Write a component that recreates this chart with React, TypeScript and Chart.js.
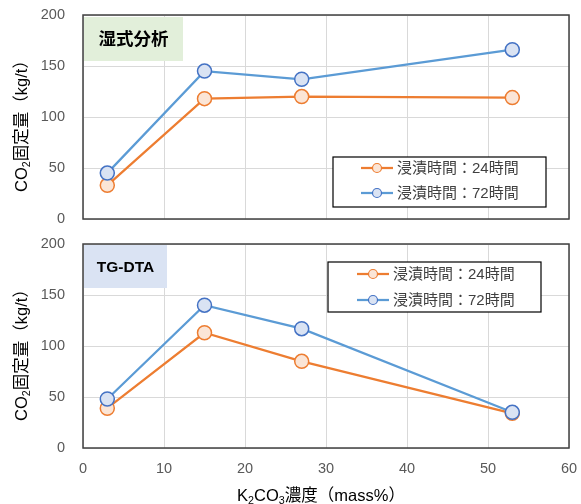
import React, { useEffect, useRef } from "react";
import { Chart, registerables } from "chart.js";

Chart.register(...registerables);

// ---- data ----
const concentrations = [3, 15, 27, 53];
const wet24 = [33, 118, 120, 119];
const wet72 = [45, 145, 137, 166];
const tg24 = [39, 113, 85, 34];
const tg72 = [48, 140, 117, 35];
const seriesLabels = ["浸漬時間：24時間", "浸漬時間：72時間"];
const panelTitles = ["湿式分析", "TG-DTA"];

const LATIN = '"Liberation Sans", "Noto Sans CJK JP", sans-serif';
const ORANGE = "#ED7D31";
const ORANGE_FILL = "#FBE5D6";
const BLUE = "#5B9BD5";
const BLUE_BORDER = "#4472C4";
const BLUE_FILL = "#DAE3F3";

type Part = { t: string; sub?: boolean };

function drawRich(ctx: CanvasRenderingContext2D, parts: Part[], size: number, cx: number, cy: number, rot: number, color: string) {
  ctx.save();
  ctx.translate(cx, cy);
  ctx.rotate(rot);
  const subSize = size * 0.65;
  let total = 0;
  const widths = parts.map((p) => {
    ctx.font = `${p.sub ? subSize : size}px ${LATIN}`;
    const w = ctx.measureText(p.t).width;
    total += w;
    return w;
  });
  let x = -total / 2;
  ctx.fillStyle = color;
  ctx.textBaseline = "middle";
  ctx.textAlign = "left";
  parts.forEach((p, i) => {
    ctx.font = `${p.sub ? subSize : size}px ${LATIN}`;
    ctx.fillText(p.t, x, p.sub ? size * 0.3 : 0);
    x += widths[i];
  });
  ctx.restore();
}

const yTitle: Part[] = [{ t: "CO" }, { t: "2", sub: true }, { t: "固定量（kg/t）" }];
const xTitle: Part[] = [{ t: "K" }, { t: "2", sub: true }, { t: "CO" }, { t: "3", sub: true }, { t: "濃度（mass%）" }];

type Panel = {
  height: number;
  top: number;
  d24: number[];
  d72: number[];
  title: string;
  titleBox: { x: number; y: number; w: number; h: number; fill: string; size: number };
  legend: { x: number; y: number; w: number; h: number; lineX: number; rows: number[] };
  showX: boolean;
  padTop: number;
  padBottom: number;
  xHeight: number;
};

const panels: Panel[] = [
  {
    height: 230,
    top: 0,
    d24: wet24,
    d72: wet72,
    title: panelTitles[0],
    titleBox: { x: 84, y: 17, w: 99, h: 44, fill: "#E2EFDA", size: 17.5 },
    legend: { x: 333, y: 157, w: 213, h: 50, lineX: 361, rows: [168, 193] },
    showX: false,
    padTop: 15,
    padBottom: 11,
    xHeight: 0,
  },
  {
    height: 274,
    top: 230,
    d24: tg24,
    d72: tg72,
    title: panelTitles[1],
    titleBox: { x: 84, y: 15, w: 83, h: 43, fill: "#DAE3F3", size: 15.5 },
    legend: { x: 328, y: 32, w: 213, h: 50, lineX: 357, rows: [44, 70] },
    showX: true,
    padTop: 14,
    padBottom: 0,
    xHeight: 56,
  },
];

function zeroPad(s: any) {
  s.paddingTop = 0;
  s.paddingBottom = 0;
  s.paddingLeft = 0;
  s.paddingRight = 0;
}

function PanelChart({ p }: { p: Panel }) {
  const ref = useRef<HTMLCanvasElement>(null);
  useEffect(() => {
    if (!ref.current) return;
    const decor = {
      id: "decor",
      beforeDatasetsDraw(chart: any) {
        const ctx = chart.ctx as CanvasRenderingContext2D;
        const a = chart.chartArea;
        const b = p.titleBox;
        ctx.save();
        ctx.fillStyle = b.fill;
        ctx.fillRect(b.x, b.y, b.w, b.h);
        ctx.fillStyle = "#000";
        ctx.font = `bold ${b.size}px ${LATIN}`;
        ctx.textBaseline = "middle";
        ctx.textAlign = "center";
        ctx.fillText(p.title, b.x + b.w / 2, b.y + b.h / 2 + 1);
        ctx.strokeStyle = "#404040";
        ctx.lineWidth = 1.5;
        ctx.strokeRect(a.left, a.top, a.right - a.left, a.bottom - a.top);
        ctx.restore();
      },
      afterDraw(chart: any) {
        const ctx = chart.ctx as CanvasRenderingContext2D;
        const a = chart.chartArea;
        drawRich(ctx, yTitle, 16.5, 22, (a.top + a.bottom) / 2 + 5, -Math.PI / 2, "#000");
        if (p.showX) drawRich(ctx, xTitle, 16.5, 321, 266, 0, "#000");
        const L = p.legend;
        ctx.save();
        ctx.fillStyle = "#fff";
        ctx.fillRect(L.x, L.y, L.w, L.h);
        ctx.strokeStyle = "#000";
        ctx.lineWidth = 1.2;
        ctx.strokeRect(L.x, L.y, L.w, L.h);
        chart.data.datasets.forEach((ds: any, i: number) => {
          const y = L.rows[i];
          ctx.strokeStyle = ds.borderColor;
          ctx.lineWidth = 2.25;
          ctx.beginPath();
          ctx.moveTo(L.lineX, y);
          ctx.lineTo(L.lineX + 32, y);
          ctx.stroke();
          ctx.beginPath();
          ctx.arc(L.lineX + 16, y, 4.5, 0, Math.PI * 2);
          ctx.fillStyle = ds.pointBackgroundColor;
          ctx.fill();
          ctx.lineWidth = 1.2;
          ctx.strokeStyle = ds.pointBorderColor;
          ctx.stroke();
          ctx.fillStyle = "#404040";
          ctx.font = `15px ${LATIN}`;
          ctx.textAlign = "left";
          ctx.textBaseline = "middle";
          ctx.fillText(ds.label, L.lineX + 36, y + 1);
        });
        ctx.restore();
      },
    };
    const chart = new Chart(ref.current, {
      type: "line",
      data: {
        datasets: [
          {
            label: seriesLabels[0],
            data: concentrations.map((x, i) => ({ x, y: p.d24[i] })),
            borderColor: ORANGE,
            backgroundColor: ORANGE,
            pointBackgroundColor: ORANGE_FILL,
            pointBorderColor: ORANGE,
            borderWidth: 2.25,
            pointRadius: 7,
            pointBorderWidth: 1.5,
            order: 1,
          },
          {
            label: seriesLabels[1],
            data: concentrations.map((x, i) => ({ x, y: p.d72[i] })),
            borderColor: BLUE,
            backgroundColor: BLUE,
            pointBackgroundColor: BLUE_FILL,
            pointBorderColor: BLUE_BORDER,
            borderWidth: 2.25,
            pointRadius: 7,
            pointBorderWidth: 1.5,
            order: 0,
          },
        ],
      },
      options: {
        responsive: false,
        animation: false,
        layout: { padding: { left: 0, right: 12, top: p.padTop, bottom: p.padBottom } },
        plugins: { legend: { display: false }, tooltip: { enabled: false } },
        scales: {
          x: {
            type: "linear",
            min: 0,
            max: 60,
            ticks: { stepSize: 10, display: p.showX, padding: 12, color: "#595959", font: { size: 14.5, family: LATIN } },
            grid: { color: "#D9D9D9", lineWidth: 1, drawTicks: false },
            border: { display: false },
            afterFit: (s: any) => {
              s.height = p.xHeight;
              zeroPad(s);
            },
          },
          y: {
            min: 0,
            max: 200,
            ticks: { stepSize: 50, padding: 18, color: "#595959", font: { size: 14.5, family: LATIN } },
            grid: { color: "#D9D9D9", lineWidth: 1, drawTicks: false },
            border: { display: false },
            afterFit: (s: any) => {
              s.width = 83;
              zeroPad(s);
            },
          },
        },
      },
      plugins: [decor],
    } as any);
    return () => chart.destroy();
  }, [p]);
  return (
    <canvas
      ref={ref}
      width={581}
      height={p.height}
      style={{ position: "absolute", left: 0, top: p.top, width: 581, height: p.height }}
    />
  );
}

export default function App() {
  return (
    <div style={{ position: "absolute", left: 0, top: 0, width: 581, height: 504, background: "#fff" }}>
      {panels.map((p, i) => (
        <PanelChart key={i} p={p} />
      ))}
    </div>
  );
}
